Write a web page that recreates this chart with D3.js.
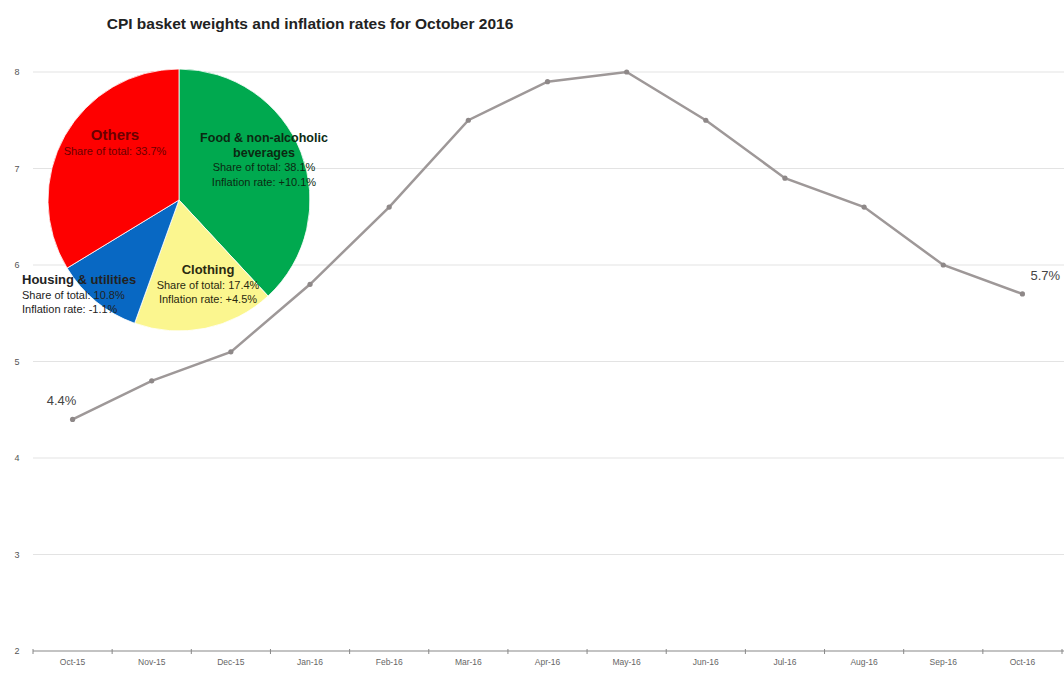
<!DOCTYPE html>
<html>
<head>
<meta charset="utf-8">
<script src="https://cdn.jsdelivr.net/npm/d3@7"></script>
<style>
  body { margin: 0; background: #fff; }
  svg { display: block; font-family: Arial, "Liberation Sans", sans-serif; }
</style>
</head>
<body>
<div id="chart"></div>
<script>
// monthly inflation, y/y %
const months = ["Oct-15", "Nov-15", "Dec-15", "Jan-16", "Feb-16", "Mar-16", "Apr-16",
                "May-16", "Jun-16", "Jul-16", "Aug-16", "Sep-16", "Oct-16"];
const inflation = [4.4, 4.8, 5.1, 5.8, 6.6, 7.5, 7.9, 8.0, 7.5, 6.9, 6.6, 6.0, 5.7];
const yTicks = [2, 3, 4, 5, 6, 7, 8];

// basket weights (pie)
const groups = ["Food & non-alcoholic beverages", "Clothing", "Housing & utilities", "Others"];
const shares = [38.1, 17.4, 10.8, 33.7];
const groupRates = ["+10.1%", "+4.5%", "-1.1%", null];

const width = 1064, height = 673;
const margin = {top: 72, right: 0, bottom: 22, left: 33};

const svg = d3.select("#chart").append("svg")
    .attr("width", width)
    .attr("height", height);

svg.append("text")
    .attr("x", 310).attr("y", 29)
    .attr("text-anchor", "middle")
    .style("font-size", "15.5px")
    .style("font-weight", "bold")
    .style("fill", "#222")
    .text("CPI basket weights and inflation rates for October 2016");

const x = d3.scaleBand().domain(months).range([margin.left, width - 2]);
const y = d3.scaleLinear().domain([2, 8]).range([height - margin.bottom, margin.top]);

// gridlines
svg.append("g")
  .selectAll("line")
  .data(yTicks.slice(1))
  .enter().append("line")
    .attr("x1", margin.left)
    .attr("x2", width)
    .attr("y1", d => y(d))
    .attr("y2", d => y(d))
    .attr("stroke", "#e3e3e3")
    .attr("stroke-width", 1);

// y labels
svg.append("g")
  .selectAll("text")
  .data(yTicks)
  .enter().append("text")
    .attr("x", 17)
    .attr("y", d => y(d))
    .attr("dy", "0.35em")
    .attr("text-anchor", "middle")
    .style("font-size", "9px")
    .style("fill", "#555")
    .text(d => d);

// x axis
const xAxis = svg.append("g")
    .attr("transform", `translate(0,${y(2)})`);
xAxis.append("line")
    .attr("x1", margin.left).attr("x2", width)
    .attr("stroke", "#888").attr("stroke-width", 1.2);
xAxis.selectAll(".tk")
  .data(months.concat([null]))
  .enter().append("line")
    .attr("class", "tk")
    .attr("x1", (d, i) => margin.left + i * x.step())
    .attr("x2", (d, i) => margin.left + i * x.step())
    .attr("y1", -2).attr("y2", 3)
    .attr("stroke", "#888");
xAxis.selectAll("text")
  .data(months)
  .enter().append("text")
    .attr("x", d => x(d) + x.bandwidth() / 2)
    .attr("y", 14)
    .attr("text-anchor", "middle")
    .style("font-size", "8.5px")
    .style("fill", "#666")
    .text(d => d);

// line
const cx = (d, i) => x(months[i]) + x.bandwidth() / 2;
const line = d3.line().x(cx).y(d => y(d));

svg.append("path")
    .datum(inflation)
    .attr("d", line)
    .attr("fill", "none")
    .attr("stroke", "#9e9898")
    .attr("stroke-width", 2.5);

svg.append("g")
  .selectAll("circle")
  .data(inflation)
  .enter().append("circle")
    .attr("cx", cx)
    .attr("cy", d => y(d))
    .attr("r", 2.6)
    .attr("fill", "#8e8888");

// end labels
const last = inflation.length - 1;
svg.append("text")
    .attr("x", cx(inflation[0], 0) - 11)
    .attr("y", y(inflation[0]) - 14)
    .attr("text-anchor", "middle")
    .style("font-size", "13px")
    .style("fill", "#444")
    .text(inflation[0].toFixed(1) + "%");
svg.append("text")
    .attr("x", cx(inflation[last], last) + 8)
    .attr("y", y(inflation[last]) - 14)
    .style("font-size", "13px")
    .style("fill", "#444")
    .text(inflation[last].toFixed(1) + "%");

// pie
const pieColors = ["#00a94f", "#fbf68f", "#0868c3", "#fe0000"];
const radius = 131;
const pieG = svg.append("g").attr("transform", "translate(179,200)");
const pie = d3.pie().sort(null).value(d => d);
const arc = d3.arc().innerRadius(0).outerRadius(radius);

pieG.selectAll("path")
  .data(pie(shares))
  .enter().append("path")
    .attr("d", arc)
    .attr("fill", (d, i) => pieColors[i])
    .attr("stroke", "#fff")
    .attr("stroke-width", 0.8);

// pie labels, one block per slice
const labelBlocks = [
  {x: 264, y: 142, anchor: "middle", color: "#0b2a12", bsize: 12.5,
   bold: ["Food & non-alcoholic", "beverages"], idx: 0},
  {x: 208, y: 274, anchor: "middle", color: "#2a2a10", bsize: 13,
   bold: ["Clothing"], idx: 1},
  {x: 22, y: 284, anchor: "start", color: "#222", bsize: 13,
   bold: ["Housing & utilities"], idx: 2},
  {x: 115, y: 140, anchor: "middle", color: "#6a0000", bsize: 15,
   bold: ["Others"], idx: 3}
];

labelBlocks.forEach(b => {
  const lines = b.bold.map(t => ({t, w: "bold"}));
  lines.push({t: "Share of total: " + shares[b.idx].toFixed(1) + "%", w: "normal"});
  if (groupRates[b.idx]) lines.push({t: "Inflation rate: " + groupRates[b.idx], w: "normal"});
  const t = svg.append("text")
      .attr("text-anchor", b.anchor)
      .style("fill", b.color);
  lines.forEach((l, j) => {
    t.append("tspan")
      .attr("x", b.x)
      .attr("y", b.y + j * 14.5)
      .style("font-weight", l.w)
      .style("font-size", l.w === "bold" ? b.bsize + "px" : "11px")
      .text(l.t);
  });
});
</script>
</body>
</html>
